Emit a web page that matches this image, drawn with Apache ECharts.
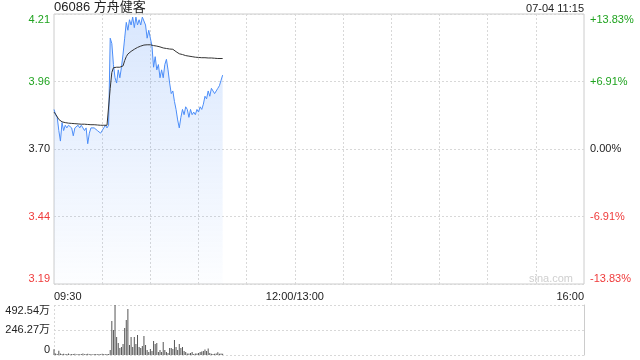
<!DOCTYPE html>
<html><head><meta charset="utf-8">
<script src="https://cdn.jsdelivr.net/npm/echarts@6/dist/echarts.min.js"></script>
<style>html,body{margin:0;padding:0;background:#fff}#c{width:640px;height:360px}</style>
</head><body><div id="c"></div>
<script>
const stockTitle = '06086 方舟健客';
const timeStamp = '07-04 11:15';
const watermark = 'sina.com';
const prevClose = 3.70;
const priceMin = 3.1883, priceMax = 4.2117;
const priceTickLabels = ['3.19', '3.44', '3.70', '3.96', '4.21'];
const pctTickLabels = ['-13.83%', '-6.91%', '0.00%', '+6.91%', '+13.83%'];
const volMax = 4925400;
const volTickLabels = ['0', '246.27万', '492.54万'];
const xLabelTimes = ['09:30', '12:00/13:00', '16:00'];

// price per minute from 09:30 to 11:15
const prices = [
  3.85,3.83,3.82,3.77,3.73,3.80,3.77,3.79,3.78,3.79,
  3.79,3.78,3.75,3.78,3.78,3.79,3.78,3.79,3.78,3.77,
  3.78,3.72,3.76,3.78,3.78,3.78,3.78,3.77,3.77,3.76,
  3.77,3.78,3.79,3.78,3.79,4.12,4.10,4.02,3.97,3.95,
  4.00,3.97,4.01,4.06,4.12,4.18,4.15,4.19,4.17,4.20,
  4.16,4.20,4.17,4.19,4.17,4.20,4.20,4.17,4.12,4.15,
  4.12,4.09,4.01,4.05,4.00,4.02,3.97,4.00,3.97,4.02,
  4.04,4.00,3.95,3.91,3.92,3.88,3.85,3.81,3.78,3.82,
  3.85,3.83,3.86,3.85,3.82,3.85,3.83,3.84,3.83,3.85,
  3.84,3.86,3.85,3.87,3.90,3.89,3.92,3.90,3.93,3.92,
  3.91,3.92,3.93,3.94,3.96,3.98
];
const avgPrices = [
  3.840,3.832,3.822,3.812,3.806,3.803,3.801,3.800,3.799,3.798,
  3.797,3.797,3.796,3.796,3.795,3.795,3.795,3.794,3.794,3.794,
  3.793,3.793,3.793,3.792,3.792,3.792,3.791,3.791,3.791,3.790,
  3.790,3.790,3.790,3.790,3.790,3.930,3.990,4.008,4.010,4.010,
  4.010,4.010,4.010,4.015,4.035,4.050,4.060,4.066,4.070,4.074,
  4.078,4.082,4.085,4.088,4.090,4.092,4.094,4.095,4.095,4.095,
  4.095,4.094,4.092,4.091,4.090,4.089,4.087,4.085,4.083,4.082,
  4.081,4.080,4.079,4.078,4.078,4.073,4.069,4.065,4.061,4.059,
  4.058,4.056,4.054,4.053,4.052,4.051,4.050,4.049,4.048,4.048,
  4.047,4.047,4.046,4.046,4.046,4.045,4.045,4.045,4.045,4.044,
  4.044,4.044,4.043,4.043,4.043,4.043
];
// volume per minute, in 万 shares
const volumesWan = [
  56.1,14.8,9.9,42.4,14.8,9.9,11.8,7.9,9.9,14.8,
  6.9,9.9,8.9,12.8,5.9,10.8,7.9,9.9,13.8,6.9,
  8.9,11.8,7.9,9.9,5.9,8.9,10.8,6.9,9.9,7.9,
  11.8,8.9,6.9,9.9,9.9,49.3,334.9,246.3,492.5,177.3,
  118.2,69.0,78.8,108.4,266.0,344.8,453.1,98.5,177.3,78.8,
  177.3,108.4,197.0,78.8,69.0,88.7,187.2,98.5,49.3,29.6,
  59.1,39.4,137.9,108.4,118.2,29.6,49.3,29.6,128.1,49.3,
  29.6,19.7,69.0,69.0,59.1,147.8,78.8,49.3,108.4,69.0,
  78.8,39.4,29.6,14.8,14.8,19.7,29.6,9.9,14.8,14.8,
  19.7,29.6,34.5,39.4,54.2,39.4,64.0,19.7,12.8,9.9,
  12.8,14.8,26.6,12.8,14.8,12.8
];

function pad(n) { return (n < 10 ? '0' : '') + n; }
const categories = [];
for (let t = 9 * 60 + 30; t < 12 * 60; t++) categories.push(pad(Math.floor(t / 60)) + ':' + pad(t % 60));
categories.push('12:00/13:00');
for (let t = 13 * 60 + 1; t <= 16 * 60; t++) categories.push(pad(Math.floor(t / 60)) + ':' + pad(t % 60));
categories[0] = xLabelTimes[0];

const FONT = 'Arial, "Liberation Sans", "Noto Sans CJK SC", sans-serif';
const GREEN = '#1fa31f', RED = '#ef3b3b', BLACK = '#222';
const priceInterval = (priceMax - priceMin) / 4;
function tickIndex(v) { return Math.round((Number(v) - priceMin) / priceInterval); }
function priceColor(v) {
  const d = Number(v) - prevClose;
  if (d > 0.01) return GREEN;
  if (d < -0.01) return RED;
  return BLACK;
}
const dotted = { color: '#d8d8d8', type: [2, 2], width: 1 };

const chart = echarts.init(document.getElementById('c'), null, { renderer: 'canvas' });
chart.setOption({
  animation: false,
  textStyle: { fontFamily: FONT },
  title: [
    { text: stockTitle, left: 54, top: 1, padding: 0,
      textStyle: { fontSize: 13, fontWeight: 'normal', color: '#222', fontFamily: FONT } },
    { text: timeStamp, right: 56, top: 3, padding: 0,
      textStyle: { fontSize: 11, fontWeight: 'normal', color: '#222', fontFamily: FONT } }
  ],
  graphic: [
    { type: 'text', right: 67, top: 273, z: 0,
      style: { text: watermark, fill: '#cfcfcf', font: '11px ' + FONT } }
  ],
  grid: [
    { left: 54, right: 56, top: 14, height: 270, show: true, borderColor: '#ccc', borderWidth: 1, backgroundColor: 'transparent' },
    { left: 54, right: 56, top: 305, height: 50 }
  ],
  xAxis: [
    { type: 'category', gridIndex: 0, data: categories, boundaryGap: false,
      axisLine: { show: false }, axisTick: { show: false },
      splitLine: { show: true, interval: (i) => i % 30 === 0 && i > 0 && i < 330, lineStyle: dotted },
      axisLabel: { interval: (i) => i === 0 || i === 150 || i === 330, color: '#222', fontSize: 11, margin: 7,
        alignMinLabel: 'left', alignMaxLabel: 'right', fontFamily: FONT } },
    { type: 'category', gridIndex: 1, data: categories, boundaryGap: false,
      axisLine: { show: false }, axisTick: { show: false }, axisLabel: { show: false },
      splitLine: { show: true, interval: (i) => i === 0, lineStyle: dotted } }
  ],
  yAxis: [
    { type: 'value', gridIndex: 0, position: 'left', min: priceMin, max: priceMax, interval: priceInterval,
      axisLine: { show: false }, axisTick: { show: false },
      splitLine: { show: true, lineStyle: dotted },
      axisLabel: { margin: 4, fontSize: 11, fontFamily: FONT,
        formatter: (v) => priceTickLabels[tickIndex(v)],
        color: (v) => priceColor(v),
        verticalAlignMinLabel: 'bottom', verticalAlignMaxLabel: 'top' } },
    { type: 'value', gridIndex: 0, position: 'right', min: priceMin, max: priceMax, interval: priceInterval,
      axisLine: { show: false }, axisTick: { show: false }, splitLine: { show: false },
      axisLabel: { margin: 6, fontSize: 11, fontFamily: FONT,
        formatter: (v) => pctTickLabels[tickIndex(v)],
        color: (v) => priceColor(v),
        verticalAlignMinLabel: 'bottom', verticalAlignMaxLabel: 'top' } },
    { type: 'value', gridIndex: 1, position: 'left', min: 0, max: volMax, interval: volMax / 2,
      axisLine: { show: false }, axisTick: { show: false },
      splitLine: { show: true, lineStyle: dotted },
      axisLabel: { margin: 4, fontSize: 11, color: '#222', fontFamily: FONT,
        formatter: (v) => volTickLabels[Math.round(Number(v) / (volMax / 2))],
        verticalAlignMinLabel: 'bottom', verticalAlignMaxLabel: 'top' } },
    { type: 'value', gridIndex: 1, position: 'right', min: 0, max: volMax,
      axisLine: { show: true, lineStyle: { color: '#ccc' } }, axisTick: { show: false },
      axisLabel: { show: false }, splitLine: { show: false } }
  ],
  series: [
    { type: 'line', xAxisIndex: 0, yAxisIndex: 0, data: prices, symbol: 'none', z: 3,
      lineStyle: { color: '#4b8df8', width: 1 },
      areaStyle: { origin: 'start', color: new echarts.graphic.LinearGradient(0, 0, 0, 1, [
        { offset: 0, color: 'rgba(75,141,248,0.30)' },
        { offset: 1, color: 'rgba(75,141,248,0.02)' }
      ]) } },
    { type: 'line', xAxisIndex: 0, yAxisIndex: 0, data: avgPrices, symbol: 'none', z: 4,
      lineStyle: { color: '#333', width: 1 } },
    { type: 'bar', xAxisIndex: 1, yAxisIndex: 2, data: volumesWan.map(v => v * 10000),
      barWidth: 1, itemStyle: { color: '#555' } }
  ]
});
</script>
</body></html>
